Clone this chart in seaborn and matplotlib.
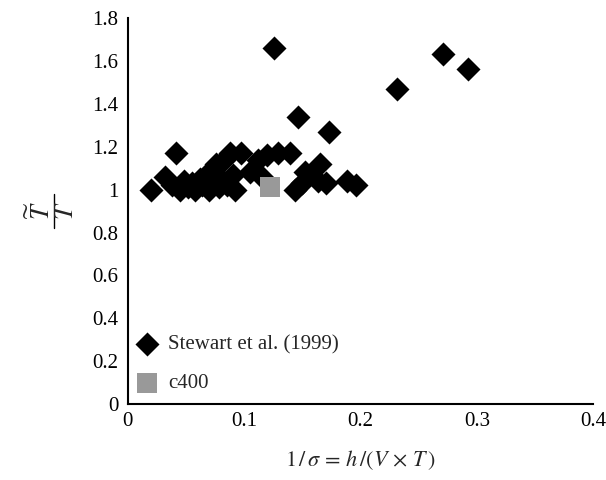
import matplotlib
matplotlib.use("Agg")
import matplotlib.pyplot as plt
from matplotlib.lines import Line2D
import seaborn as sns
import pandas as pd

stewart_x = [0.020, 0.032, 0.041, 0.038, 0.045, 0.048, 0.052, 0.055, 0.058, 0.062,
             0.064, 0.067, 0.070, 0.073, 0.076, 0.078, 0.080, 0.083, 0.085, 0.088,
             0.090, 0.092, 0.097, 0.105, 0.112, 0.120, 0.129, 0.139, 0.126, 0.115,
             0.144, 0.150, 0.152, 0.146, 0.165, 0.163, 0.170, 0.173, 0.188, 0.196,
             0.231, 0.271, 0.292]
stewart_y = [1.00, 1.06, 1.17, 1.02, 1.00, 1.04, 1.01, 1.03, 1.00, 1.05,
             1.02, 1.07, 1.00, 1.03, 1.12, 1.01, 1.05, 1.14, 1.02, 1.17,
             1.07, 1.00, 1.17, 1.08, 1.14, 1.16, 1.17, 1.17, 1.66, 1.06,
             1.00, 1.03, 1.08, 1.34, 1.12, 1.04, 1.03, 1.27, 1.04, 1.02,
             1.47, 1.63, 1.56]
c400_x = [0.122]
c400_y = [1.01]

x_ticks = [0, 0.1, 0.2, 0.3, 0.4]
x_tick_labels = ["0", "0.1", "0.2", "0.3", "0.4"]
y_ticks = [0, 0.2, 0.4, 0.6, 0.8, 1.0, 1.2, 1.4, 1.6, 1.8]
y_tick_labels = ["0", "0.2", "0.4", "0.6", "0.8", "1", "1.2", "1.4", "1.6", "1.8"]

sns.set_style("white")
plt.rcParams['font.family'] = ['Liberation Serif', 'DejaVu Serif']
plt.rcParams['mathtext.fontset'] = 'stix'

df_s = pd.DataFrame({"x": stewart_x, "y": stewart_y})
df_c = pd.DataFrame({"x": c400_x, "y": c400_y})

W, H = 606, 480
fig = plt.figure(figsize=(6.06, 4.8), dpi=100)
ax = fig.add_axes([0.211, 0.158, 0.768, 0.8045])

sns.scatterplot(data=df_s, x="x", y="y", marker="D", s=150, color="black",
                linewidth=0, ax=ax, label="Stewart et al. (1999)", zorder=3)
sns.scatterplot(data=df_c, x="x", y="y", marker="s", s=200, color="#999999",
                linewidth=0, ax=ax, label="c400", zorder=4)

ax.set_xlim(0, 0.4)
ax.set_ylim(0, 1.8)
ax.set_xticks(x_ticks)
ax.set_xticklabels(x_tick_labels)
ax.set_yticks(y_ticks)
ax.set_yticklabels(y_tick_labels)
ax.tick_params(axis='x', direction='in', length=5, width=1.2, labelsize=15, pad=6, colors='black')
ax.tick_params(axis='y', direction='out', length=5, width=1.2, labelsize=15, pad=2, colors='black')
for side in ['top', 'right']:
    ax.spines[side].set_visible(False)
for side in ['left', 'bottom']:
    ax.spines[side].set_color('black')
    ax.spines[side].set_linewidth(1.5)

ax.set_xlabel(r'$1\,/\,\sigma\,=\,h\,/(V\,\times\,T\,)$', fontsize=16, labelpad=12)
ax.set_ylabel("")

# y-axis label: stacked fraction T~ / T, rotated
fig.text(40 / W, 1 - 211 / H, r'$\widetilde{T}$', fontsize=19,
         rotation=90, ha='center', va='center')
fig.text(67 / W, 1 - 211 / H, r'$T$', fontsize=19,
         rotation=90, ha='center', va='center')
fig.add_artist(Line2D([54 / W, 54 / W], [1 - 194 / H, 1 - 228 / H],
                      transform=fig.transFigure, color='black', linewidth=1.0))

leg = ax.legend(loc='lower left', bbox_to_anchor=(-0.035, -0.01), frameon=False,
                fontsize=15, handletextpad=0.0, labelspacing=0.95, borderaxespad=0.3,
                markerscale=1.0)

fig.savefig("out.png", dpi=100)
